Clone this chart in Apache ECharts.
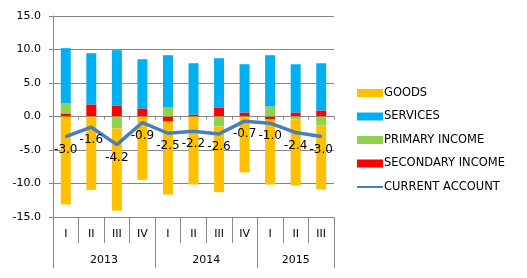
<!DOCTYPE html>
<html>
<head>
<meta charset="utf-8">
<script src="https://cdn.jsdelivr.net/npm/echarts@6/dist/echarts.min.js"></script>
<style>
  html, body { margin: 0; padding: 0; background: #fff; }
  #chart { width: 527px; height: 278px; }
</style>
</head>
<body>
<div id="chart"></div>
<script>
// quarters and years (year groups: 4, 4, 3 quarters)
var quarters = ['I', 'II', 'III', 'IV', 'I', 'II', 'III', 'IV', 'I', 'II', 'III'];
var years = ['2013', '2014', '2015'];
var yearSizes = [4, 4, 3];

// series values
var goods     = [-13.15, -10.85, -12.25, -9.25, -10.9, -10.15, -9.8, -8.2, -9.7, -9.85, -9.55];
var services  = [8.25, 7.65, 8.25, 7.35, 7.8, 7.65, 7.35, 7.2, 7.65, 7.2, 7.05];
var primary   = [1.5, -0.1, -1.8, -0.2, 1.35, 0, -1.5, -0.15, 1.5, -0.45, -1.35];
var secondary = [0.45, 1.8, 1.65, 1.2, -0.75, 0.3, 1.35, 0.6, -0.45, 0.6, 0.9];
var current   = [-3.0, -1.6, -4.2, -0.9, -2.5, -2.2, -2.6, -0.7, -1.0, -2.4, -3.0];

// year axis on half-quarter steps, boundaryGap false
var yearSlots = [];
for (var i = 0; i <= quarters.length * 2; i++) yearSlots.push('');
var yearBounds = [0];
var acc = 0;
years.forEach(function (y, k) {
  yearSlots[acc * 2 + yearSizes[k]] = y;
  acc += yearSizes[k];
  yearBounds.push(acc * 2);
});

var gray = '#878787';

var option = {
  animation: false,
  textStyle: { fontFamily: 'DejaVu Sans', color: '#000' },
  grid: { left: 53, right: 193, top: 16, bottom: 61 },
  legend: {
    orient: 'vertical',
    left: 356,
    top: 87,
    padding: 0,
    itemWidth: 26,
    itemHeight: 8,
    itemGap: 11.5,
    textStyle: { fontSize: 11.5, color: '#000', padding: [0, 0, 0, -4] },
    data: [
      { name: 'GOODS', icon: 'rect' },
      { name: 'SERVICES', icon: 'rect' },
      { name: 'PRIMARY INCOME', icon: 'rect' },
      { name: 'SECONDARY INCOME', icon: 'rect' },
      { name: 'CURRENT ACCOUNT', itemStyle: { opacity: 0 } }
    ]
  },
  xAxis: [
    {
      // zero line with small ticks
      type: 'category',
      data: quarters,
      position: 'bottom',
      axisLine: { onZero: true, lineStyle: { color: gray } },
      axisTick: { show: true, length: 3, lineStyle: { color: gray } },
      axisLabel: { show: false }
    },
    {
      type: 'category',
      data: quarters,
      position: 'bottom',
      axisLine: { onZero: false, lineStyle: { color: gray } },
      axisTick: { show: true, length: 26, lineStyle: { color: gray } },
      axisLabel: { fontSize: 11, color: '#000', margin: 12 }
    },
    {
      type: 'category',
      data: yearSlots,
      boundaryGap: false,
      position: 'bottom',
      axisLine: { show: false, onZero: false },
      axisTick: {
        show: true, length: 51, lineStyle: { color: gray },
        interval: function (idx) { return yearBounds.indexOf(idx) >= 0; }
      },
      axisLabel: { fontSize: 11, color: '#000', margin: 38, interval: 0 }
    }
  ],
  yAxis: {
    type: 'value',
    min: -15,
    max: 15,
    interval: 5,
    axisLine: { show: true, lineStyle: { color: gray } },
    axisTick: { show: true, length: 4, lineStyle: { color: gray } },
    splitLine: { lineStyle: { color: gray } },
    axisLabel: {
      fontSize: 11, color: '#000', margin: 12,
      formatter: function (v) { return v.toFixed(1); }
    }
  },
  series: [
    { name: 'SECONDARY INCOME', type: 'bar', stack: 'ca', barWidth: 10, data: secondary, itemStyle: { color: '#FF0000' } },
    { name: 'PRIMARY INCOME', type: 'bar', stack: 'ca', barWidth: 10, data: primary, itemStyle: { color: '#92D050' } },
    { name: 'SERVICES', type: 'bar', stack: 'ca', barWidth: 10, data: services, itemStyle: { color: '#00B0F0' } },
    { name: 'GOODS', type: 'bar', stack: 'ca', barWidth: 10, data: goods, itemStyle: { color: '#FFC000' } },
    {
      name: 'CURRENT ACCOUNT',
      type: 'line',
      data: current,
      symbol: 'circle',
      symbolSize: 2,
      lineStyle: { color: '#4A7EBB', width: 3.5 },
      itemStyle: { color: '#4A7EBB' },
      label: {
        show: true,
        position: 'bottom',
        distance: 6,
        fontSize: 12,
        color: '#000',
        formatter: function (p) { return p.value.toFixed(1); }
      }
    }
  ]
};

var myChart = echarts.init(document.getElementById('chart'));
myChart.setOption(option);
</script>
</body>
</html>
